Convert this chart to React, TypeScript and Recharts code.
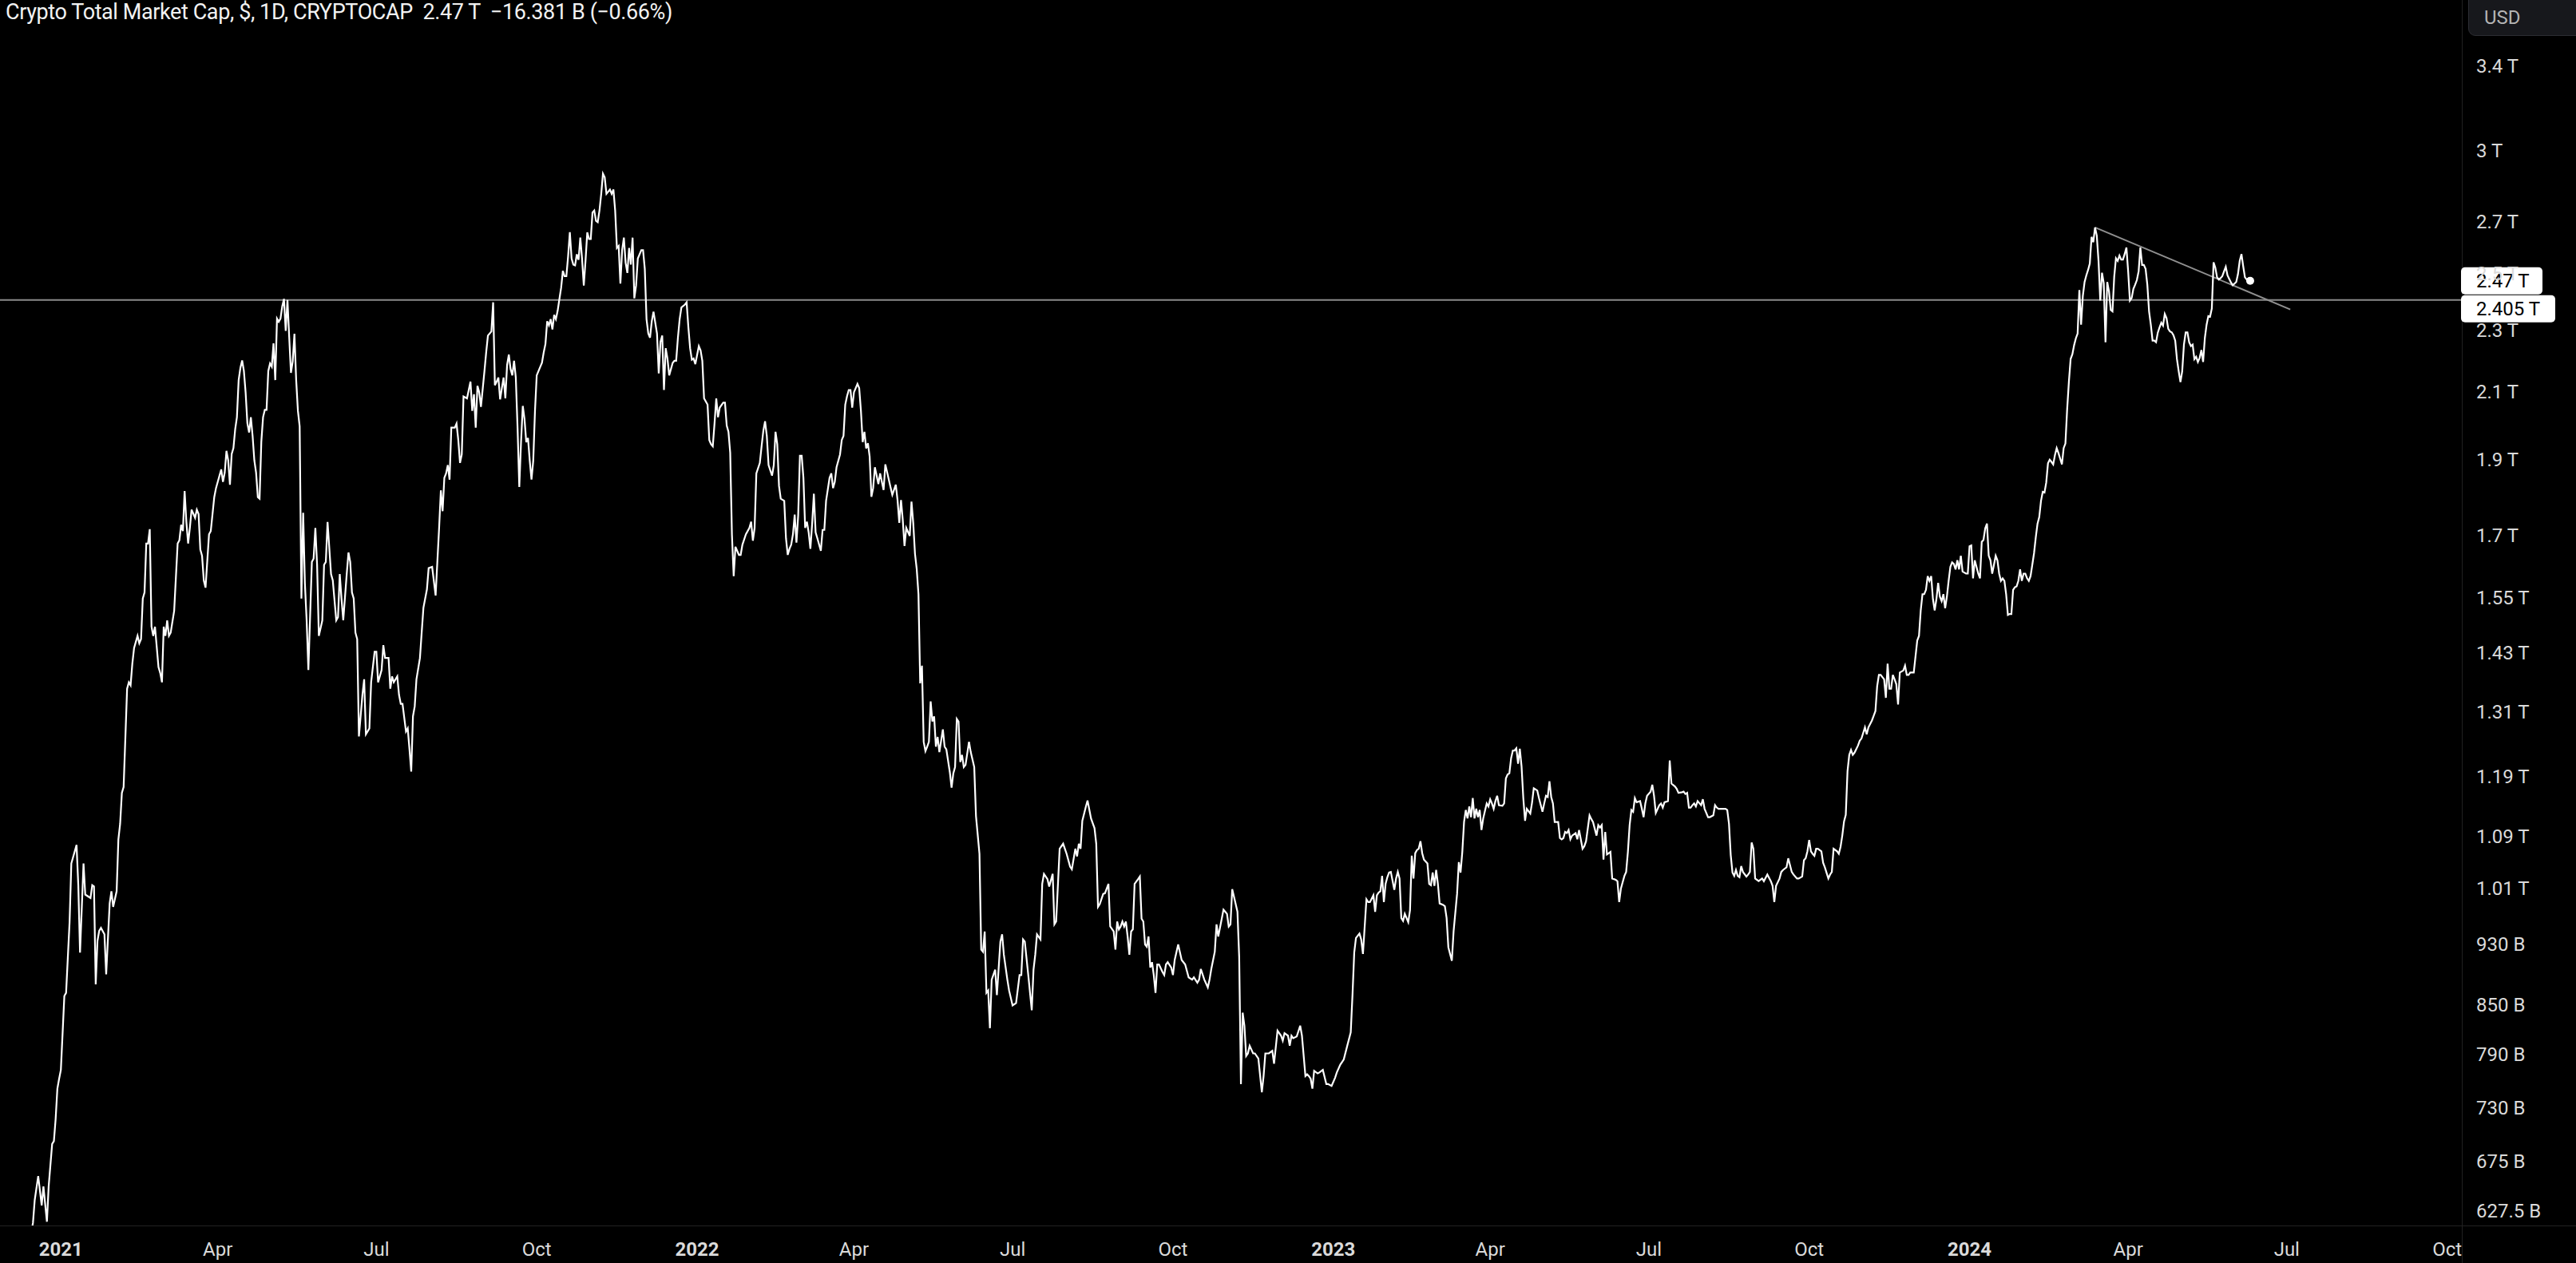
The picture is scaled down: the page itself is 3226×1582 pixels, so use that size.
import { LineChart, Line, XAxis, YAxis, ReferenceLine, ReferenceDot } from 'recharts'

const FONT = "Roboto, 'Noto Sans', sans-serif"

// daily closes, in trillions of USD
const cap2020: [string, number][] = [
    ['2020-12-10', 0.582], ['2020-12-14', 0.598], ['2020-12-16', 0.616], ['2020-12-17', 0.637], ['2020-12-19', 0.66],
    ['2020-12-21', 0.632], ['2020-12-22', 0.65], ['2020-12-24', 0.617], ['2020-12-25', 0.65], ['2020-12-27', 0.692],
    ['2020-12-28', 0.695], ['2020-12-29', 0.718], ['2020-12-30', 0.751], ['2020-12-31', 0.762],
]

const cap2021: [string, number][] = [
    ['2021-01-01', 0.772], ['2021-01-03', 0.861], ['2021-01-04', 0.865], ['2021-01-06', 0.96], ['2021-01-07', 1.047],
    ['2021-01-10', 1.076], ['2021-01-11', 1.014], ['2021-01-12', 0.918], ['2021-01-14', 1.047], ['2021-01-15', 1.0],
    ['2021-01-18', 0.995], ['2021-01-19', 1.014], ['2021-01-20', 1.012], ['2021-01-21', 0.876], ['2021-01-22', 0.934],
    ['2021-01-23', 0.948], ['2021-01-24', 0.952], ['2021-01-26', 0.943], ['2021-01-27', 0.889], ['2021-01-29', 0.987],
    ['2021-01-30', 1.005], ['2021-01-31', 0.982], ['2021-02-02', 1.005], ['2021-02-03', 1.085], ['2021-02-04', 1.11],
    ['2021-02-05', 1.162], ['2021-02-06', 1.172], ['2021-02-08', 1.355], ['2021-02-09', 1.368], ['2021-02-10', 1.362],
    ['2021-02-11', 1.406], ['2021-02-12', 1.439], ['2021-02-14', 1.465], ['2021-02-15', 1.449], ['2021-02-16', 1.458],
    ['2021-02-17', 1.548], ['2021-02-18', 1.562], ['2021-02-19', 1.679], ['2021-02-20', 1.679], ['2021-02-21', 1.715],
    ['2021-02-22', 1.485], ['2021-02-23', 1.465], ['2021-02-24', 1.485], ['2021-02-26', 1.399], ['2021-02-27', 1.387],
    ['2021-02-28', 1.368], ['2021-03-01', 1.485], ['2021-03-02', 1.465], ['2021-03-03', 1.499], ['2021-03-04', 1.465],
    ['2021-03-05', 1.472], ['2021-03-07', 1.52], ['2021-03-09', 1.679], ['2021-03-10', 1.687], ['2021-03-11', 1.726],
    ['2021-03-12', 1.71], ['2021-03-13', 1.814], ['2021-03-14', 1.733], ['2021-03-15', 1.679], ['2021-03-16', 1.718],
    ['2021-03-17', 1.765], ['2021-03-19', 1.744], ['2021-03-20', 1.765], ['2021-03-21', 1.754], ['2021-03-22', 1.664],
    ['2021-03-23', 1.649], ['2021-03-24', 1.59], ['2021-03-25', 1.573], ['2021-03-27', 1.702], ['2021-03-28', 1.71],
    ['2021-03-30', 1.798], ['2021-03-31', 1.822], ['2021-04-02', 1.856], ['2021-04-03', 1.873], ['2021-04-04', 1.839],
    ['2021-04-05', 1.864], ['2021-04-06', 1.925], ['2021-04-07', 1.898], ['2021-04-08', 1.831], ['2021-04-09', 1.916],
    ['2021-04-10', 1.933], ['2021-04-11', 1.987], ['2021-04-12', 2.023], ['2021-04-13', 2.137], ['2021-04-14', 2.176],
    ['2021-04-15', 2.2], ['2021-04-16', 2.166], ['2021-04-17', 2.098], ['2021-04-18', 2.005], ['2021-04-19', 1.978],
    ['2021-04-20', 2.023], ['2021-04-21', 1.968], ['2021-04-22', 1.898], ['2021-04-23', 1.864], ['2021-04-24', 1.798],
    ['2021-04-25', 1.794], ['2021-04-26', 1.951], ['2021-04-27', 2.023], ['2021-04-28', 2.045], ['2021-04-29', 2.045],
    ['2021-04-30', 2.166], ['2021-05-01', 2.19], ['2021-05-02', 2.18], ['2021-05-03', 2.256], ['2021-05-04', 2.137],
    ['2021-05-05', 2.34], ['2021-05-06', 2.329], ['2021-05-07', 2.34], ['2021-05-08', 2.383], ['2021-05-09', 2.409],
    ['2021-05-10', 2.298], ['2021-05-11', 2.405], ['2021-05-12', 2.277], ['2021-05-13', 2.16], ['2021-05-14', 2.196],
    ['2021-05-15', 2.288], ['2021-05-16', 2.137], ['2021-05-17', 2.042], ['2021-05-18', 1.996], ['2021-05-19', 1.548],
    ['2021-05-20', 1.757], ['2021-05-21', 1.583], ['2021-05-22', 1.499], ['2021-05-23', 1.393], ['2021-05-25', 1.634],
    ['2021-05-26', 1.642], ['2021-05-27', 1.718], ['2021-05-28', 1.627], ['2021-05-29', 1.465], ['2021-05-31', 1.499],
    ['2021-06-01', 1.627], ['2021-06-02', 1.634], ['2021-06-03', 1.733], ['2021-06-05', 1.605], ['2021-06-06', 1.59],
    ['2021-06-08', 1.499], ['2021-06-09', 1.506], ['2021-06-10', 1.605], ['2021-06-11', 1.548], ['2021-06-12', 1.499],
    ['2021-06-14', 1.605], ['2021-06-15', 1.657], ['2021-06-16', 1.634], ['2021-06-17', 1.562], ['2021-06-18', 1.548],
    ['2021-06-19', 1.472], ['2021-06-20', 1.458], ['2021-06-21', 1.263], ['2021-06-23', 1.343], ['2021-06-24', 1.374],
    ['2021-06-25', 1.267], ['2021-06-27', 1.278], ['2021-06-28', 1.368], ['2021-06-30', 1.431], ['2021-07-01', 1.431],
    ['2021-07-02', 1.368], ['2021-07-04', 1.393], ['2021-07-05', 1.445], ['2021-07-06', 1.418], ['2021-07-08', 1.418],
    ['2021-07-09', 1.355], ['2021-07-10', 1.38], ['2021-07-11', 1.368], ['2021-07-13', 1.38], ['2021-07-14', 1.343],
    ['2021-07-15', 1.325], ['2021-07-16', 1.325], ['2021-07-18', 1.272], ['2021-07-19', 1.278], ['2021-07-20', 1.239],
    ['2021-07-21', 1.199], ['2021-07-22', 1.301], ['2021-07-23', 1.32], ['2021-07-24', 1.374], ['2021-07-26', 1.418],
    ['2021-07-27', 1.472], ['2021-07-28', 1.527], ['2021-07-30', 1.569], ['2021-07-31', 1.619], ['2021-08-02', 1.622],
    ['2021-08-04', 1.555], ['2021-08-05', 1.635], ['2021-08-06', 1.718], ['2021-08-07', 1.816], ['2021-08-08', 1.761],
    ['2021-08-09', 1.85], ['2021-08-10', 1.862], ['2021-08-11', 1.885], ['2021-08-12', 1.845], ['2021-08-13', 1.992],
    ['2021-08-15', 1.992], ['2021-08-16', 2.004], ['2021-08-17', 1.956], ['2021-08-18', 1.891], ['2021-08-19', 1.915],
    ['2021-08-20', 2.086], ['2021-08-22', 2.08], ['2021-08-23', 2.106], ['2021-08-24', 2.132], ['2021-08-25', 2.042],
    ['2021-08-26', 2.093], ['2021-08-27', 1.992], ['2021-08-28', 2.119], ['2021-08-29', 2.099], ['2021-08-30', 2.054],
    ['2021-09-01', 2.165], ['2021-09-02', 2.226], ['2021-09-03', 2.282], ['2021-09-05', 2.296], ['2021-09-06', 2.397],
    ['2021-09-07', 2.121], ['2021-09-08', 2.132], ['2021-09-09', 2.145], ['2021-09-10', 2.077], ['2021-09-11', 2.112],
    ['2021-09-12', 2.145], ['2021-09-13', 2.08], ['2021-09-14', 2.185], ['2021-09-15', 2.219], ['2021-09-16', 2.172],
    ['2021-09-17', 2.152], ['2021-09-18', 2.199], ['2021-09-19', 2.145], ['2021-09-20', 1.992], ['2021-09-21', 1.825],
    ['2021-09-22', 1.95], ['2021-09-23', 2.057], ['2021-09-24', 2.017], ['2021-09-25', 1.95], ['2021-09-26', 1.962],
    ['2021-09-27', 1.897], ['2021-09-28', 1.845], ['2021-09-29', 1.897], ['2021-09-30', 2.042], ['2021-10-01', 2.152],
    ['2021-10-03', 2.179], ['2021-10-04', 2.192], ['2021-10-05', 2.226], ['2021-10-06', 2.254], ['2021-10-07', 2.331],
    ['2021-10-08', 2.317], ['2021-10-09', 2.338], ['2021-10-10', 2.303], ['2021-10-11', 2.353], ['2021-10-12', 2.338],
    ['2021-10-13', 2.367], ['2021-10-14', 2.408], ['2021-10-15', 2.449], ['2021-10-16', 2.511], ['2021-10-17', 2.491],
    ['2021-10-18', 2.491], ['2021-10-19', 2.565], ['2021-10-20', 2.658], ['2021-10-21', 2.557], ['2021-10-22', 2.534],
    ['2021-10-23', 2.531], ['2021-10-24', 2.573], ['2021-10-25', 2.552], ['2021-10-26', 2.637], ['2021-10-27', 2.557],
    ['2021-10-28', 2.457], ['2021-10-29', 2.549], ['2021-10-30', 2.658], ['2021-10-31', 2.632], ['2021-11-01', 2.632],
    ['2021-11-02', 2.737], ['2021-11-03', 2.745], ['2021-11-04', 2.703], ['2021-11-05', 2.698], ['2021-11-06', 2.745],
    ['2021-11-07', 2.813], ['2021-11-08', 2.898], ['2021-11-09', 2.883], ['2021-11-10', 2.813], ['2021-11-11', 2.822],
    ['2021-11-12', 2.831], ['2021-11-13', 2.813], ['2021-11-14', 2.831], ['2021-11-15', 2.745], ['2021-11-16', 2.597],
    ['2021-11-17', 2.605], ['2021-11-18', 2.464], ['2021-11-19', 2.589], ['2021-11-20', 2.637], ['2021-11-21', 2.541],
    ['2021-11-22', 2.503], ['2021-11-23', 2.597], ['2021-11-24', 2.534], ['2021-11-25', 2.637], ['2021-11-26', 2.411],
    ['2021-11-27', 2.457], ['2021-11-28', 2.557], ['2021-11-30', 2.589], ['2021-12-01', 2.589], ['2021-12-02', 2.518],
    ['2021-12-03', 2.338], ['2021-12-04', 2.289], ['2021-12-05', 2.275], ['2021-12-06', 2.331], ['2021-12-07', 2.364],
    ['2021-12-09', 2.289], ['2021-12-10', 2.158], ['2021-12-11', 2.261], ['2021-12-12', 2.282], ['2021-12-13', 2.106],
    ['2021-12-14', 2.24], ['2021-12-15', 2.206], ['2021-12-16', 2.152], ['2021-12-18', 2.192], ['2021-12-19', 2.199],
    ['2021-12-20', 2.199], ['2021-12-21', 2.275], ['2021-12-22', 2.338], ['2021-12-23', 2.379], ['2021-12-25', 2.389],
    ['2021-12-26', 2.397], ['2021-12-27', 2.31], ['2021-12-28', 2.24], ['2021-12-29', 2.202], ['2021-12-30', 2.206],
    ['2021-12-31', 2.188],
]

const cap2022: [string, number][] = [
    ['2022-01-02', 2.247], ['2022-01-03', 2.233], ['2022-01-04', 2.199], ['2022-01-05', 2.08], ['2022-01-07', 2.061],
    ['2022-01-08', 1.956], ['2022-01-09', 1.944], ['2022-01-10', 1.938], ['2022-01-11', 2.004], ['2022-01-12', 2.08],
    ['2022-01-13', 2.023], ['2022-01-14', 2.052], ['2022-01-16', 2.067], ['2022-01-17', 2.067], ['2022-01-18', 1.998],
    ['2022-01-19', 1.98], ['2022-01-20', 1.92], ['2022-01-21', 1.7], ['2022-01-22', 1.6], ['2022-01-23', 1.671],
    ['2022-01-25', 1.651], ['2022-01-26', 1.651], ['2022-01-27', 1.676], ['2022-01-29', 1.702], ['2022-01-31', 1.718],
    ['2022-02-01', 1.734], ['2022-02-02', 1.686], ['2022-02-03', 1.718], ['2022-02-04', 1.862], ['2022-02-06', 1.891],
    ['2022-02-07', 1.938], ['2022-02-08', 1.983], ['2022-02-09', 2.011], ['2022-02-10', 1.968], ['2022-02-11', 1.885],
    ['2022-02-13', 1.856], ['2022-02-14', 1.885], ['2022-02-15', 1.98], ['2022-02-16', 1.944], ['2022-02-17', 1.828],
    ['2022-02-18', 1.794], ['2022-02-20', 1.788], ['2022-02-21', 1.692], ['2022-02-22', 1.651], ['2022-02-23', 1.666],
    ['2022-02-24', 1.676], ['2022-02-25', 1.702], ['2022-02-26', 1.752], ['2022-02-27', 1.681], ['2022-02-28', 1.75],
    ['2022-03-01', 1.911], ['2022-03-02', 1.911], ['2022-03-03', 1.85], ['2022-03-04', 1.718], ['2022-03-05', 1.734],
    ['2022-03-06', 1.707], ['2022-03-07', 1.666], ['2022-03-08', 1.728], ['2022-03-09', 1.807], ['2022-03-10', 1.707],
    ['2022-03-11', 1.692], ['2022-03-13', 1.661], ['2022-03-14', 1.713], ['2022-03-15', 1.713], ['2022-03-16', 1.788],
    ['2022-03-18', 1.85], ['2022-03-19', 1.862], ['2022-03-20', 1.822], ['2022-03-21', 1.839], ['2022-03-22', 1.879],
    ['2022-03-24', 1.915], ['2022-03-25', 1.956], ['2022-03-26', 1.968], ['2022-03-27', 2.061], ['2022-03-28', 2.086],
    ['2022-03-29', 2.106], ['2022-03-30', 2.106], ['2022-03-31', 2.052], ['2022-04-01', 2.099], ['2022-04-02', 2.112],
    ['2022-04-03', 2.125], ['2022-04-04', 2.112], ['2022-04-05', 2.042], ['2022-04-06', 1.95], ['2022-04-07', 1.98],
    ['2022-04-08', 1.932], ['2022-04-09', 1.947], ['2022-04-10', 1.909], ['2022-04-11', 1.799], ['2022-04-12', 1.822],
    ['2022-04-13', 1.879], ['2022-04-15', 1.833], ['2022-04-16', 1.862], ['2022-04-18', 1.817], ['2022-04-19', 1.887],
    ['2022-04-20', 1.866], ['2022-04-22', 1.824], ['2022-04-23', 1.804], ['2022-04-25', 1.831], ['2022-04-26', 1.79],
    ['2022-04-27', 1.731], ['2022-04-28', 1.79], ['2022-04-29', 1.738], ['2022-04-30', 1.673], ['2022-05-01', 1.718],
    ['2022-05-03', 1.698], ['2022-05-04', 1.786], ['2022-05-05', 1.731], ['2022-05-06', 1.654], ['2022-05-07', 1.617],
    ['2022-05-08', 1.558], ['2022-05-09', 1.366], ['2022-05-10', 1.402], ['2022-05-11', 1.253], ['2022-05-12', 1.236],
    ['2022-05-13', 1.244], ['2022-05-14', 1.253], ['2022-05-15', 1.33], ['2022-05-16', 1.291], ['2022-05-17', 1.301],
    ['2022-05-18', 1.244], ['2022-05-19', 1.262], ['2022-05-20', 1.234], ['2022-05-22', 1.276], ['2022-05-23', 1.244],
    ['2022-05-24', 1.239], ['2022-05-26', 1.198], ['2022-05-27', 1.171], ['2022-05-28', 1.196], ['2022-05-29', 1.207],
    ['2022-05-30', 1.296], ['2022-05-31', 1.291], ['2022-06-01', 1.216], ['2022-06-02', 1.229], ['2022-06-03', 1.207],
    ['2022-06-04', 1.211], ['2022-06-06', 1.253], ['2022-06-07', 1.234], ['2022-06-09', 1.207], ['2022-06-10', 1.123],
    ['2022-06-12', 1.062], ['2022-06-13', 0.922], ['2022-06-14', 0.919], ['2022-06-15', 0.947], ['2022-06-16', 0.865],
    ['2022-06-17', 0.868], ['2022-06-18', 0.821], ['2022-06-19', 0.882], ['2022-06-21', 0.895], ['2022-06-22', 0.862],
    ['2022-06-24', 0.933], ['2022-06-25', 0.943], ['2022-06-26', 0.915], ['2022-06-28', 0.882], ['2022-06-29', 0.868],
    ['2022-07-01', 0.849], ['2022-07-03', 0.852], ['2022-07-05', 0.888], ['2022-07-06', 0.888], ['2022-07-07', 0.936],
    ['2022-07-08', 0.933], ['2022-07-10', 0.888], ['2022-07-12', 0.843], ['2022-07-13', 0.895], ['2022-07-14', 0.915],
    ['2022-07-15', 0.943], ['2022-07-17', 0.936], ['2022-07-18', 1.016], ['2022-07-19', 1.031], ['2022-07-21', 1.023],
    ['2022-07-22', 1.012], ['2022-07-24', 1.031], ['2022-07-25', 0.957], ['2022-07-26', 0.961], ['2022-07-28', 1.07],
    ['2022-07-30', 1.078], ['2022-08-01', 1.062], ['2022-08-03', 1.042], ['2022-08-04', 1.038], ['2022-08-06', 1.07],
    ['2022-08-07', 1.058], ['2022-08-08', 1.078], ['2022-08-09', 1.07], ['2022-08-10', 1.115], ['2022-08-12', 1.138],
    ['2022-08-13', 1.149], ['2022-08-15', 1.119], ['2022-08-17', 1.103], ['2022-08-18', 1.078], ['2022-08-19', 0.982],
    ['2022-08-20', 0.986], ['2022-08-22', 1.001], ['2022-08-23', 1.002], ['2022-08-25', 1.016], ['2022-08-26', 0.954],
    ['2022-08-28', 0.947], ['2022-08-29', 0.922], ['2022-08-30', 0.961], ['2022-08-31', 0.95], ['2022-09-01', 0.954],
    ['2022-09-02', 0.961], ['2022-09-03', 0.954], ['2022-09-04', 0.961], ['2022-09-05', 0.94], ['2022-09-06', 0.915],
    ['2022-09-07', 0.947], ['2022-09-08', 0.95], ['2022-09-09', 1.016], ['2022-09-11', 1.023], ['2022-09-12', 1.027],
    ['2022-09-13', 0.965], ['2022-09-14', 0.961], ['2022-09-15', 0.929], ['2022-09-16', 0.926], ['2022-09-17', 0.94],
    ['2022-09-18', 0.898], ['2022-09-19', 0.905], ['2022-09-20', 0.888], ['2022-09-21', 0.865], ['2022-09-22', 0.902],
    ['2022-09-23', 0.902], ['2022-09-25', 0.892], ['2022-09-26', 0.888], ['2022-09-27', 0.902], ['2022-09-28', 0.905],
    ['2022-09-30', 0.898], ['2022-10-01', 0.888], ['2022-10-02', 0.908], ['2022-10-04', 0.929], ['2022-10-06', 0.908],
    ['2022-10-08', 0.902], ['2022-10-10', 0.885], ['2022-10-12', 0.882], ['2022-10-13', 0.885], ['2022-10-15', 0.878],
    ['2022-10-16', 0.882], ['2022-10-17', 0.896], ['2022-10-19', 0.882], ['2022-10-21', 0.872], ['2022-10-22', 0.882],
    ['2022-10-23', 0.896], ['2022-10-25', 0.919], ['2022-10-26', 0.957], ['2022-10-27', 0.94], ['2022-10-29', 0.965],
    ['2022-10-30', 0.978], ['2022-10-31', 0.975], ['2022-11-01', 0.972], ['2022-11-02', 0.954], ['2022-11-03', 0.957],
    ['2022-11-04', 1.008], ['2022-11-05', 0.997], ['2022-11-07', 0.975], ['2022-11-08', 0.912], ['2022-11-09', 0.756],
    ['2022-11-10', 0.84], ['2022-11-11', 0.824], ['2022-11-12', 0.788], ['2022-11-13', 0.791], ['2022-11-14', 0.8],
    ['2022-11-16', 0.791], ['2022-11-17', 0.791], ['2022-11-19', 0.785], ['2022-11-21', 0.747], ['2022-11-22', 0.765],
    ['2022-11-23', 0.791], ['2022-11-25', 0.791], ['2022-11-27', 0.794], ['2022-11-28', 0.779], ['2022-11-30', 0.818],
    ['2022-12-01', 0.815], ['2022-12-02', 0.812], ['2022-12-03', 0.806], ['2022-12-04', 0.815], ['2022-12-06', 0.812],
    ['2022-12-07', 0.8], ['2022-12-08', 0.812], ['2022-12-09', 0.809], ['2022-12-11', 0.811], ['2022-12-13', 0.824],
    ['2022-12-14', 0.812], ['2022-12-16', 0.765], ['2022-12-17', 0.767], ['2022-12-18', 0.765], ['2022-12-19', 0.762],
    ['2022-12-20', 0.751], ['2022-12-21', 0.771], ['2022-12-23', 0.768], ['2022-12-24', 0.769], ['2022-12-26', 0.772],
    ['2022-12-28', 0.756], ['2022-12-29', 0.756], ['2022-12-31', 0.754],
]

const cap2023: [string, number][] = [
    ['2023-01-02', 0.763], ['2023-01-03', 0.769], ['2023-01-05', 0.778], ['2023-01-06', 0.781], ['2023-01-07', 0.784],
    ['2023-01-09', 0.8], ['2023-01-11', 0.816], ['2023-01-12', 0.862], ['2023-01-13', 0.918], ['2023-01-14', 0.938],
    ['2023-01-16', 0.944], ['2023-01-17', 0.936], ['2023-01-18', 0.916], ['2023-01-20', 0.993], ['2023-01-21', 0.989],
    ['2023-01-22', 0.989], ['2023-01-24', 0.999], ['2023-01-25', 0.975], ['2023-01-26', 0.999], ['2023-01-27', 1.003],
    ['2023-01-28', 1.005], ['2023-01-29', 1.028], ['2023-01-30', 0.989], ['2023-01-31', 1.016], ['2023-02-01', 1.026],
    ['2023-02-02', 1.033], ['2023-02-03', 1.034], ['2023-02-05', 1.007], ['2023-02-06', 1.024], ['2023-02-07', 1.034],
    ['2023-02-08', 1.024], ['2023-02-09', 0.966], ['2023-02-10', 0.962], ['2023-02-11', 0.972], ['2023-02-13', 0.96],
    ['2023-02-14', 0.977], ['2023-02-15', 1.059], ['2023-02-16', 1.024], ['2023-02-17', 1.063], ['2023-02-18', 1.068],
    ['2023-02-19', 1.07], ['2023-02-20', 1.082], ['2023-02-21', 1.063], ['2023-02-22', 1.053], ['2023-02-24', 1.047],
    ['2023-02-25', 1.016], ['2023-02-26', 1.014], ['2023-02-27', 1.033], ['2023-02-28', 1.013], ['2023-03-01', 1.037],
    ['2023-03-02', 1.016], ['2023-03-03', 0.987], ['2023-03-05', 0.985], ['2023-03-06', 0.983], ['2023-03-07', 0.966],
    ['2023-03-08', 0.925], ['2023-03-10', 0.907], ['2023-03-11', 0.947], ['2023-03-13', 1.001], ['2023-03-14', 1.049],
    ['2023-03-15', 1.033], ['2023-03-16', 1.065], ['2023-03-17', 1.113], ['2023-03-18', 1.133], ['2023-03-19', 1.119],
    ['2023-03-20', 1.139], ['2023-03-21', 1.121], ['2023-03-22', 1.153], ['2023-03-23', 1.119], ['2023-03-24', 1.135],
    ['2023-03-25', 1.121], ['2023-03-26', 1.133], ['2023-03-27', 1.1], ['2023-03-28', 1.119], ['2023-03-30', 1.144],
    ['2023-03-31', 1.139], ['2023-04-01', 1.151], ['2023-04-02', 1.144], ['2023-04-03', 1.135], ['2023-04-04', 1.148],
    ['2023-04-05', 1.157], ['2023-04-06', 1.141], ['2023-04-08', 1.14], ['2023-04-09', 1.144], ['2023-04-10', 1.187],
    ['2023-04-11', 1.194], ['2023-04-12', 1.196], ['2023-04-13', 1.223], ['2023-04-14', 1.237], ['2023-04-15', 1.237],
    ['2023-04-16', 1.241], ['2023-04-17', 1.213], ['2023-04-18', 1.24], ['2023-04-19', 1.208], ['2023-04-20', 1.153],
    ['2023-04-21', 1.115], ['2023-04-22', 1.135], ['2023-04-24', 1.127], ['2023-04-25', 1.145], ['2023-04-26', 1.17],
    ['2023-04-28', 1.166], ['2023-04-29', 1.153], ['2023-05-01', 1.13], ['2023-05-02', 1.144], ['2023-05-03', 1.157],
    ['2023-05-04', 1.155], ['2023-05-05', 1.182], ['2023-05-06', 1.155], ['2023-05-07', 1.144], ['2023-05-08', 1.113],
    ['2023-05-10', 1.113], ['2023-05-11', 1.087], ['2023-05-12', 1.085], ['2023-05-13', 1.087], ['2023-05-14', 1.097],
    ['2023-05-15', 1.095], ['2023-05-16', 1.1], ['2023-05-17', 1.085], ['2023-05-18', 1.091], ['2023-05-20', 1.095],
    ['2023-05-21', 1.085], ['2023-05-22', 1.1], ['2023-05-24', 1.07], ['2023-05-25', 1.074], ['2023-05-26', 1.082],
    ['2023-05-28', 1.124], ['2023-05-29', 1.118], ['2023-05-30', 1.113], ['2023-06-01', 1.091], ['2023-06-02', 1.108],
    ['2023-06-03', 1.104], ['2023-06-04', 1.108], ['2023-06-05', 1.053], ['2023-06-06', 1.097], ['2023-06-07', 1.061],
    ['2023-06-09', 1.065], ['2023-06-10', 1.024], ['2023-06-12', 1.022], ['2023-06-13', 1.02], ['2023-06-14', 0.989],
    ['2023-06-15', 1.009], ['2023-06-17', 1.028], ['2023-06-18', 1.034], ['2023-06-19', 1.065], ['2023-06-20', 1.108],
    ['2023-06-21', 1.133], ['2023-06-22', 1.13], ['2023-06-23', 1.153], ['2023-06-24', 1.146], ['2023-06-26', 1.148],
    ['2023-06-27', 1.135], ['2023-06-28', 1.121], ['2023-06-29', 1.144], ['2023-06-30', 1.157], ['2023-07-02', 1.164],
    ['2023-07-03', 1.176], ['2023-07-04', 1.157], ['2023-07-05', 1.128], ['2023-07-07', 1.141], ['2023-07-08', 1.144],
    ['2023-07-09', 1.137], ['2023-07-10', 1.146], ['2023-07-12', 1.148], ['2023-07-13', 1.219], ['2023-07-14', 1.178],
    ['2023-07-16', 1.173], ['2023-07-17', 1.169], ['2023-07-18', 1.162], ['2023-07-20', 1.163], ['2023-07-21', 1.164],
    ['2023-07-22', 1.16], ['2023-07-23', 1.162], ['2023-07-24', 1.137], ['2023-07-25', 1.137], ['2023-07-26', 1.141],
    ['2023-07-27', 1.144], ['2023-07-28', 1.139], ['2023-07-29', 1.148], ['2023-07-31', 1.141], ['2023-08-01', 1.151],
    ['2023-08-02', 1.135], ['2023-08-03', 1.128], ['2023-08-04', 1.121], ['2023-08-05', 1.121], ['2023-08-07', 1.124],
    ['2023-08-08', 1.141], ['2023-08-09', 1.137], ['2023-08-10', 1.135], ['2023-08-12', 1.135], ['2023-08-14', 1.135],
    ['2023-08-15', 1.133], ['2023-08-16', 1.11], ['2023-08-17', 1.06], ['2023-08-18', 1.033], ['2023-08-19', 1.028],
    ['2023-08-20', 1.037], ['2023-08-21', 1.028], ['2023-08-22', 1.026], ['2023-08-23', 1.043], ['2023-08-24', 1.034],
    ['2023-08-26', 1.027], ['2023-08-27', 1.03], ['2023-08-28', 1.034], ['2023-08-29', 1.08], ['2023-08-30', 1.07],
    ['2023-08-31', 1.024], ['2023-09-02', 1.02], ['2023-09-04', 1.024], ['2023-09-05', 1.02], ['2023-09-07', 1.03],
    ['2023-09-09', 1.02], ['2023-09-10', 1.013], ['2023-09-11', 0.989], ['2023-09-12', 1.013], ['2023-09-14', 1.024],
    ['2023-09-15', 1.034], ['2023-09-16', 1.037], ['2023-09-18', 1.041], ['2023-09-19', 1.055], ['2023-09-21', 1.034],
    ['2023-09-22', 1.03], ['2023-09-24', 1.024], ['2023-09-25', 1.024], ['2023-09-27', 1.027], ['2023-09-28', 1.052],
    ['2023-09-29', 1.055], ['2023-09-30', 1.066], ['2023-10-01', 1.084], ['2023-10-02', 1.066], ['2023-10-03', 1.062],
    ['2023-10-04', 1.059], ['2023-10-05', 1.07], ['2023-10-06', 1.07], ['2023-10-08', 1.066], ['2023-10-09', 1.048],
    ['2023-10-10', 1.041], ['2023-10-12', 1.024], ['2023-10-13', 1.03], ['2023-10-14', 1.034], ['2023-10-15', 1.07],
    ['2023-10-17', 1.066], ['2023-10-18', 1.062], ['2023-10-19', 1.073], ['2023-10-20', 1.091], ['2023-10-21', 1.114],
    ['2023-10-22', 1.125], ['2023-10-23', 1.2], ['2023-10-24', 1.229], ['2023-10-25', 1.238], ['2023-10-26', 1.229],
    ['2023-10-27', 1.233], ['2023-10-29', 1.246], ['2023-10-30', 1.255], ['2023-10-31', 1.259], ['2023-11-02', 1.28],
    ['2023-11-03', 1.267], ['2023-11-04', 1.28], ['2023-11-06', 1.293], ['2023-11-07', 1.302], ['2023-11-08', 1.311],
    ['2023-11-09', 1.36], ['2023-11-10', 1.383], ['2023-11-11', 1.383], ['2023-11-13', 1.374], ['2023-11-14', 1.337],
    ['2023-11-15', 1.406], ['2023-11-16', 1.355], ['2023-11-17', 1.355], ['2023-11-18', 1.383], ['2023-11-19', 1.374],
    ['2023-11-20', 1.364], ['2023-11-21', 1.324], ['2023-11-22', 1.388], ['2023-11-24', 1.392], ['2023-11-25', 1.402],
    ['2023-11-26', 1.383], ['2023-11-27', 1.383], ['2023-11-28', 1.388], ['2023-11-30', 1.388], ['2023-12-01', 1.421],
    ['2023-12-02', 1.455], ['2023-12-03', 1.465], ['2023-12-04', 1.521], ['2023-12-05', 1.558], ['2023-12-06', 1.558],
    ['2023-12-07', 1.568], ['2023-12-08', 1.6], ['2023-12-09', 1.589], ['2023-12-10', 1.6], ['2023-12-11', 1.547],
    ['2023-12-12', 1.521], ['2023-12-13', 1.547], ['2023-12-14', 1.584], ['2023-12-15', 1.552], ['2023-12-16', 1.542],
    ['2023-12-17', 1.558], ['2023-12-18', 1.526], ['2023-12-19', 1.552], ['2023-12-20', 1.589], ['2023-12-21', 1.622],
    ['2023-12-22', 1.633], ['2023-12-23', 1.629], ['2023-12-24', 1.616], ['2023-12-25', 1.638], ['2023-12-26', 1.616],
    ['2023-12-27', 1.649], ['2023-12-28', 1.611], ['2023-12-30', 1.606], ['2023-12-31', 1.606],
]

const cap2024: [string, number][] = [
    ['2024-01-01', 1.672], ['2024-01-02', 1.674], ['2024-01-03', 1.595], ['2024-01-04', 1.638], ['2024-01-06', 1.606],
    ['2024-01-07', 1.595], ['2024-01-08', 1.683], ['2024-01-09', 1.688], ['2024-01-10', 1.717], ['2024-01-11', 1.729],
    ['2024-01-12', 1.649], ['2024-01-13', 1.638], ['2024-01-14', 1.606], ['2024-01-15', 1.627], ['2024-01-16', 1.649],
    ['2024-01-17', 1.638], ['2024-01-18', 1.606], ['2024-01-19', 1.589], ['2024-01-20', 1.595], ['2024-01-21', 1.589],
    ['2024-01-22', 1.558], ['2024-01-23', 1.511], ['2024-01-24', 1.513], ['2024-01-25', 1.513], ['2024-01-26', 1.568],
    ['2024-01-27', 1.574], ['2024-01-28', 1.576], ['2024-01-29', 1.589], ['2024-01-30', 1.616], ['2024-01-31', 1.589],
    ['2024-02-01', 1.606], ['2024-02-02', 1.606], ['2024-02-03', 1.595], ['2024-02-04', 1.589], ['2024-02-05', 1.6],
    ['2024-02-06', 1.627], ['2024-02-07', 1.655], ['2024-02-08', 1.694], ['2024-02-09', 1.729], ['2024-02-10', 1.746],
    ['2024-02-11', 1.788], ['2024-02-12', 1.812], ['2024-02-13', 1.81], ['2024-02-14', 1.837], ['2024-02-15', 1.89],
    ['2024-02-16', 1.9], ['2024-02-17', 1.894], ['2024-02-18', 1.887], ['2024-02-19', 1.913], ['2024-02-20', 1.933],
    ['2024-02-21', 1.919], ['2024-02-22', 1.903], ['2024-02-23', 1.887], ['2024-02-24', 1.933], ['2024-02-25', 1.946],
    ['2024-02-26', 2.047], ['2024-02-27', 2.132], ['2024-02-28', 2.205], ['2024-02-29', 2.22], ['2024-03-01', 2.25],
    ['2024-03-02', 2.273], ['2024-03-03', 2.289], ['2024-03-04', 2.441], ['2024-03-05', 2.319], ['2024-03-06', 2.42],
    ['2024-03-07', 2.47], ['2024-03-08', 2.494], ['2024-03-09', 2.514], ['2024-03-10', 2.538], ['2024-03-11', 2.64],
    ['2024-03-12', 2.619], ['2024-03-13', 2.677], ['2024-03-14', 2.645], ['2024-03-15', 2.548], ['2024-03-16', 2.403],
    ['2024-03-17', 2.504], ['2024-03-18', 2.465], ['2024-03-19', 2.26], ['2024-03-20', 2.47], ['2024-03-21', 2.436],
    ['2024-03-22', 2.37], ['2024-03-23', 2.365], ['2024-03-24', 2.489], ['2024-03-25', 2.558], ['2024-03-26', 2.548],
    ['2024-03-27', 2.568], ['2024-03-28', 2.553], ['2024-03-29', 2.553], ['2024-03-30', 2.574], ['2024-03-31', 2.599],
    ['2024-04-01', 2.509], ['2024-04-02', 2.403], ['2024-04-03', 2.412], ['2024-04-04', 2.445], ['2024-04-05', 2.46],
    ['2024-04-06', 2.477], ['2024-04-07', 2.509], ['2024-04-08', 2.599], ['2024-04-09', 2.533], ['2024-04-10', 2.533],
    ['2024-04-11', 2.518], ['2024-04-12', 2.46], ['2024-04-13', 2.365], ['2024-04-14', 2.319], ['2024-04-15', 2.265],
    ['2024-04-16', 2.265], ['2024-04-17', 2.26], ['2024-04-18', 2.292], ['2024-04-19', 2.31], ['2024-04-20', 2.326],
    ['2024-04-21', 2.316], ['2024-04-22', 2.356], ['2024-04-23', 2.342], ['2024-04-24', 2.305], ['2024-04-25', 2.296],
    ['2024-04-26', 2.293], ['2024-04-27', 2.283], ['2024-04-28', 2.265], ['2024-04-29', 2.204], ['2024-04-30', 2.165],
    ['2024-05-01', 2.131], ['2024-05-02', 2.165], ['2024-05-03', 2.252], ['2024-05-04', 2.293], ['2024-05-05', 2.293],
    ['2024-05-06', 2.26], ['2024-05-07', 2.247], ['2024-05-08', 2.252], ['2024-05-09', 2.204], ['2024-05-10', 2.212],
    ['2024-05-11', 2.195], ['2024-05-12', 2.208], ['2024-05-13', 2.234], ['2024-05-14', 2.195], ['2024-05-15', 2.274],
    ['2024-05-16', 2.319], ['2024-05-17', 2.349], ['2024-05-18', 2.347], ['2024-05-19', 2.375], ['2024-05-20', 2.543],
    ['2024-05-21', 2.523], ['2024-05-22', 2.487], ['2024-05-23', 2.479], ['2024-05-24', 2.484], ['2024-05-25', 2.491],
    ['2024-05-26', 2.509], ['2024-05-27', 2.526], ['2024-05-28', 2.494], ['2024-05-29', 2.481], ['2024-05-30', 2.468],
    ['2024-05-31', 2.458], ['2024-06-01', 2.464], ['2024-06-02', 2.47], ['2024-06-03', 2.499], ['2024-06-04', 2.548],
    ['2024-06-05', 2.574], ['2024-06-06', 2.528], ['2024-06-07', 2.487], ['2024-06-08', 2.479], ['2024-06-09', 2.483],
    ['2024-06-10', 2.474],
]

const xTickDates = [
    '2021-01-01', '2021-04-01', '2021-07-01', '2021-10-01', '2022-01-01', '2022-04-01', '2022-07-01', '2022-10-01',
    '2023-01-01', '2023-04-01', '2023-07-01', '2023-10-01', '2024-01-01', '2024-04-01', '2024-07-01', '2024-10-01',
]
const xTickLabels = ['2021', 'Apr', 'Jul', 'Oct', '2022', 'Apr', 'Jul', 'Oct', '2023', 'Apr', 'Jul', 'Oct', '2024', 'Apr', 'Jul', 'Oct']

const yTickValues = [3.4, 3, 2.7, 2.5, 2.3, 2.1, 1.9, 1.7, 1.55, 1.43, 1.31, 1.19, 1.09, 1.01, 0.93, 0.85, 0.79, 0.73, 0.675, 0.6275]
const yTickLabels = ['3.4 T', '3 T', '2.7 T', '2.5 T', '2.3 T', '2.1 T', '1.9 T', '1.7 T', '1.55 T', '1.43 T', '1.31 T', '1.19 T',
    '1.09 T', '1.01 T', '930 B', '850 B', '790 B', '730 B', '675 B', '627.5 B']

const levelPrice = 2.405
const trendStart: [string, number] = ['2024-03-13', 2.677]
const trendEnd: [string, number] = ['2024-07-03', 2.372]

const data = [...cap2020, ...cap2021, ...cap2022, ...cap2023, ...cap2024].map(([d, v]) => ({ t: Date.parse(d), v }))
const last = data[data.length - 1]
const xTicks = xTickDates.map(d => Date.parse(d))

// visible window of the time scale
const xDomain = [Date.UTC(2020, 10, 27, 2), Date.UTC(2024, 9, 9, 10)]
const yDomain = [0.6136, 3.745]

const AXIS_TEXT = '#dadada'

function XTick({ x, payload }: any) {
    const i = xTicks.indexOf(payload.value)
    const label = xTickLabels[i] ?? ''
    const isYear = /^\d{4}$/.test(label)
    return (
        <text x={x} y={1573} textAnchor="middle" fontSize={24} fontFamily={FONT}
            fontWeight={isYear ? 700 : 400} fill={AXIS_TEXT}>{label}</text>
    )
}

function YTick({ y, payload }: any) {
    const i = yTickValues.indexOf(payload.value)
    return (
        <text x={3101} y={y} dy="0.355em" fontSize={24} fontFamily={FONT} fill={AXIS_TEXT}>{yTickLabels[i]}</text>
    )
}

function PriceTag({ viewBox, text, boxWidth, shift }: any) {
    const x = viewBox.x + viewBox.width - 1
    const cy = viewBox.y + shift
    return (
        <g>
            <rect x={x} y={cy - 17} width={boxWidth} height={34} rx={5} fill="#ffffff" />
            <text x={x + 19} y={cy} dy="0.355em" fontSize={24} fontFamily={FONT} fill="#000">{text}</text>
        </g>
    )
}

export default function App() {
    return (
        <div style={{ position: 'fixed', left: 0, top: 0, width: 3226, height: 1582, background: '#000', overflow: 'hidden' }}>
            {/* pane separators */}
            <div style={{ position: 'absolute', left: 3083, top: 0, width: 1, height: 1582, background: '#222' }} />
            <div style={{ position: 'absolute', left: 0, top: 1535, width: 3226, height: 1, background: '#222' }} />

            <div style={{ position: 'absolute', left: 0, top: 0 }}>
                <LineChart width={3226} height={1582} data={data} margin={{ top: 0, right: 0, bottom: 0, left: 0 }}>
                    <XAxis type="number" dataKey="t" domain={xDomain} allowDataOverflow ticks={xTicks} interval={0}
                        height={47} axisLine={false} tickLine={false} tick={<XTick />} />
                    <YAxis orientation="right" scale="log" domain={yDomain} allowDataOverflow ticks={yTickValues}
                        interval={0} width={143} axisLine={false} tickLine={false} tick={<YTick />} />
                    <ReferenceLine y={levelPrice} stroke="#8a8a8a" strokeWidth={2}
                        label={<PriceTag text="2.405 T" boxWidth={118} shift={11} />} />
                    <ReferenceLine
                        segment={[{ x: Date.parse(trendStart[0]), y: trendStart[1] }, { x: Date.parse(trendEnd[0]), y: trendEnd[1] }]}
                        stroke="#909090" strokeWidth={2} />
                    <Line type="linear" dataKey="v" stroke="#ffffff" strokeWidth={2.2} dot={false} isAnimationActive={false} />
                    <ReferenceDot x={last.t} y={last.v} r={5} fill="#ffffff" stroke="none" />
                    <ReferenceLine y={last.v} stroke="none"
                        label={<PriceTag text="2.47 T" boxWidth={102} shift={0} />} />
                </LineChart>
            </div>

            <div style={{
                position: 'absolute', left: 7, top: -1, fontFamily: FONT, fontSize: 27, letterSpacing: -0.4,
                color: '#f2f2f2', whiteSpace: 'pre', lineHeight: 'normal',
            }}>
                {'Crypto Total Market Cap, $, 1D, CRYPTOCAP  2.47 T  \u221216.381 B (\u22120.66%)'}
            </div>

            <div style={{
                position: 'absolute', left: 3091, top: -1, width: 140, height: 46, boxSizing: 'border-box',
                background: '#17181c', border: '1px solid #2c2d33', borderBottomLeftRadius: 9,
                fontFamily: FONT, fontSize: 24, color: '#b4b4b4', paddingLeft: 19, lineHeight: '44px',
            }}>USD</div>
        </div>
    )
}
